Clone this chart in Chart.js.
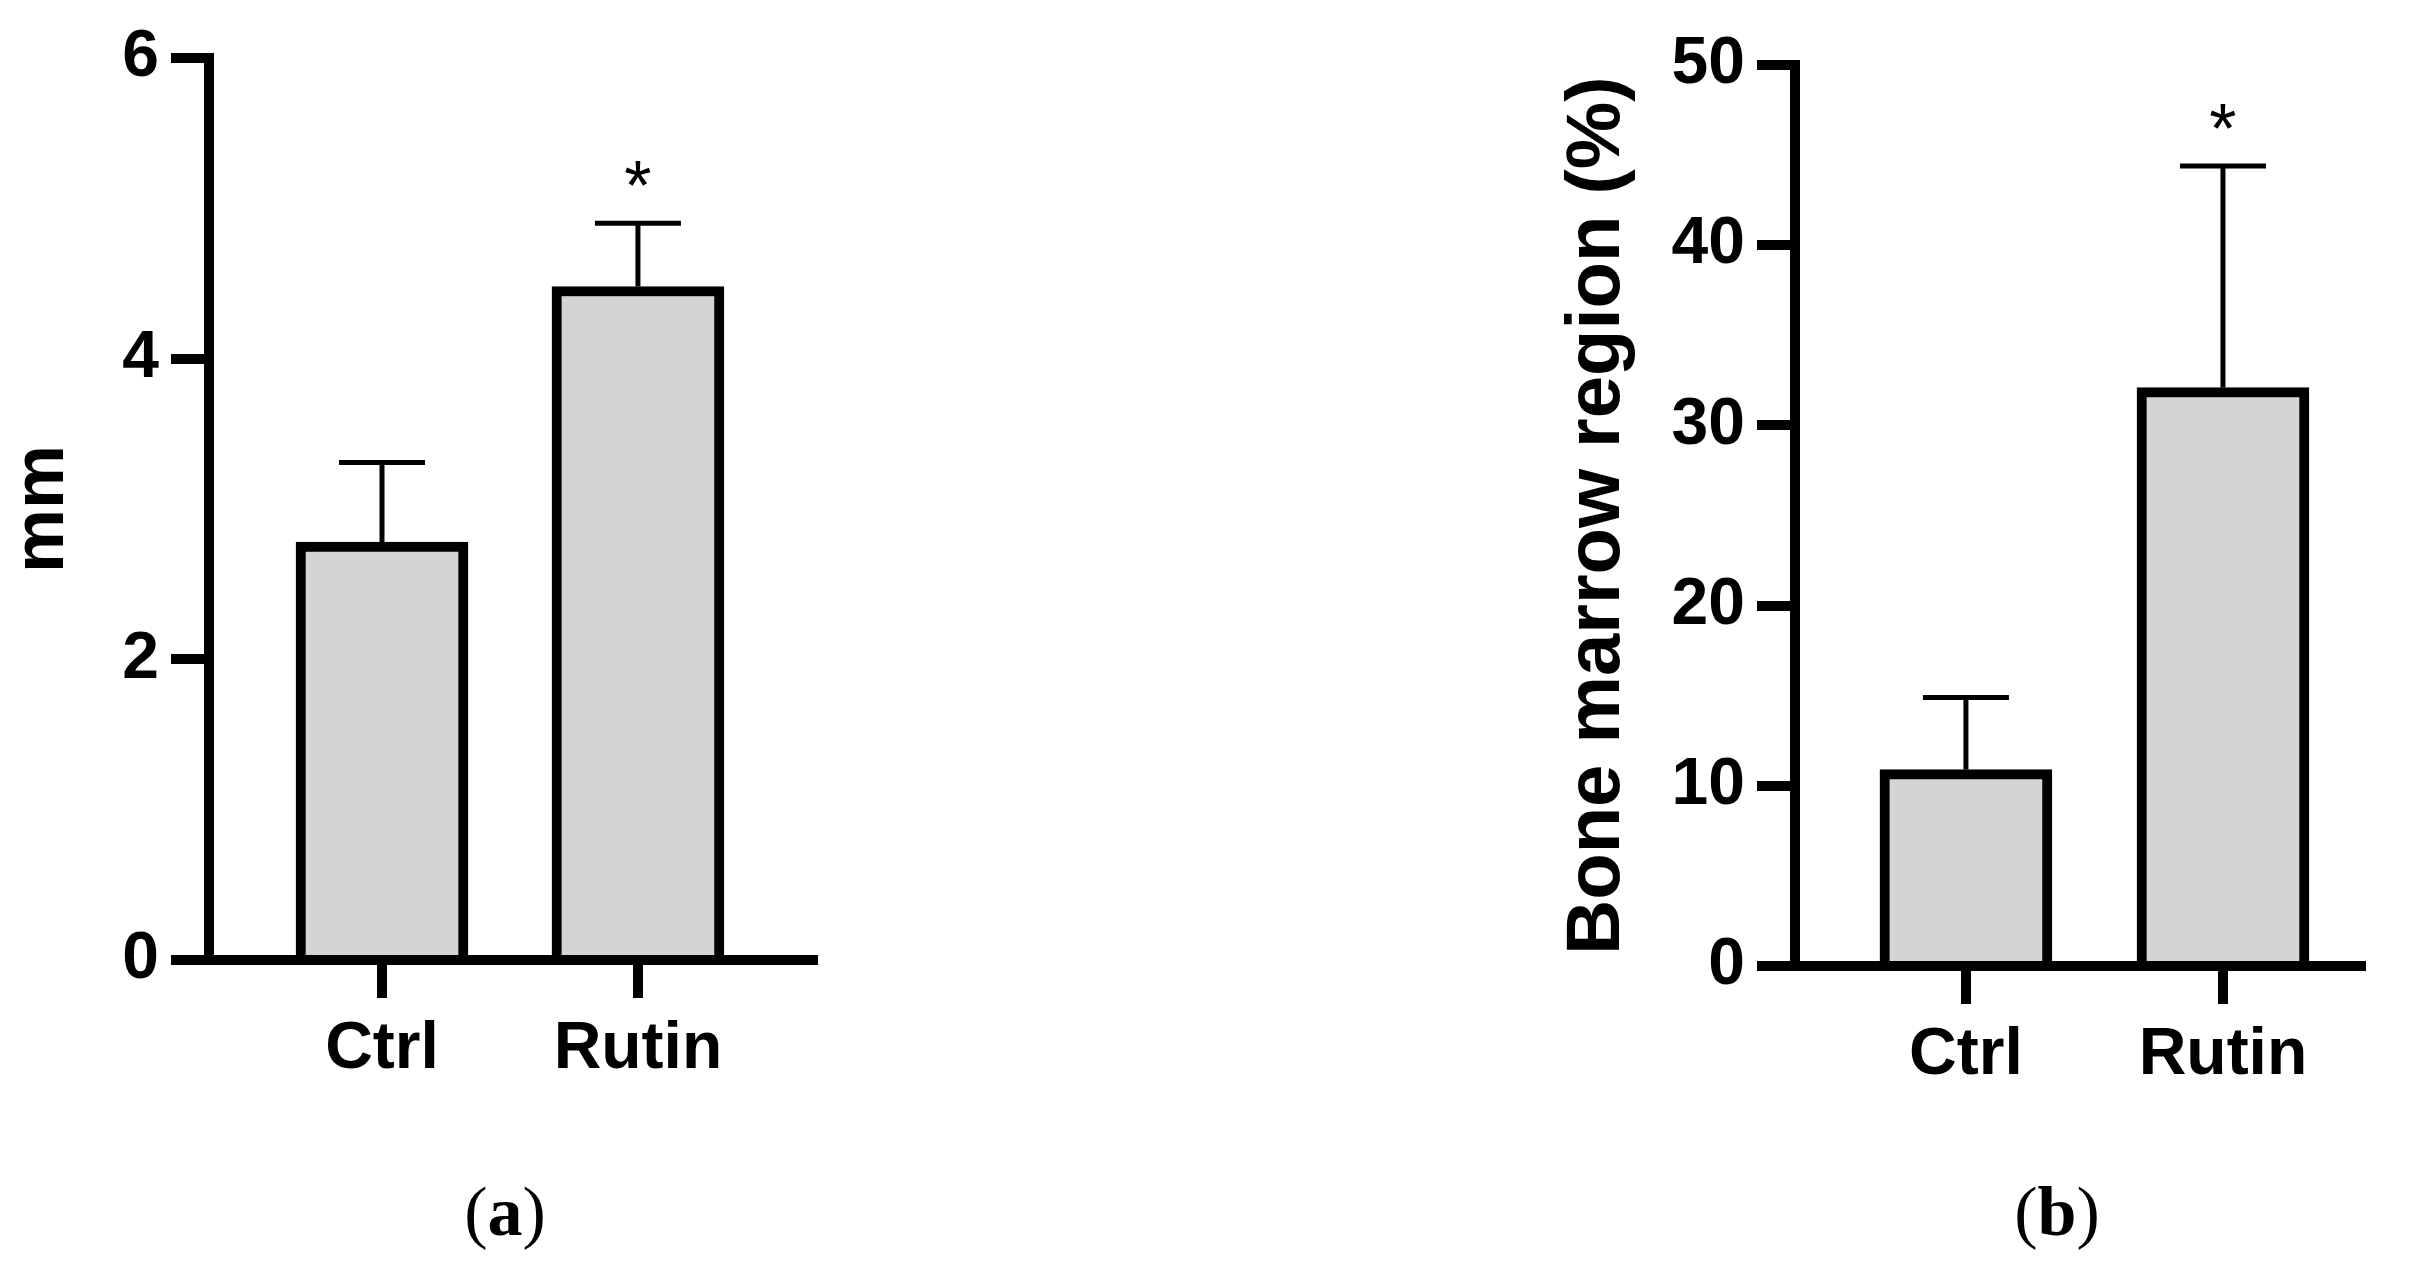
<!DOCTYPE html>
<html>
<head>
<meta charset="utf-8">
<script src="https://cdn.jsdelivr.net/npm/chart.js@4.4.0/dist/chart.umd.min.js"></script>
<style>
  html, body { margin: 0; padding: 0; background: #fff; }
  body { width: 2420px; height: 1265px; position: relative; overflow: hidden; }
  canvas { position: absolute; top: 0; }
  #chartA { left: 0; }
  #chartB { left: 1552px; }
  .caption {
    position: absolute; top: 1212px; transform: translate(-50%, -50%);
    font-family: "Liberation Serif", serif; font-size: 70px; line-height: 1; color: #000;
  }
  .caption b { font-weight: bold; }
</style>
</head>
<body>
<canvas id="chartA" width="880" height="1130"></canvas>
<canvas id="chartB" width="868" height="1130"></canvas>
<div class="caption" style="left:505px">(<b>a</b>)</div>
<div class="caption" style="left:2057px">(<b>b</b>)</div>

<script>
// groups on the x axis
const categories = ['Ctrl', 'Rutin'];

// panel (a): length in mm, mean and error (upper bar only)
const lengthMean = [2.78, 4.48];
const lengthErr = [0.53, 0.42];

// panel (b): bone marrow region in %
const marrowMean = [10.9, 32.1];
const marrowErr = [4.0, 12.3];

// significance marks above each group
const marks = ['', '*'];

const FONT = '"Liberation Sans", Arial, sans-serif';

// draws the upper error bar and the star over each bar
const errorBarPlugin = {
    id: 'errorBars',
    afterDatasetsDraw(chart, args, opts) {
        const ctx = chart.ctx;
        const xs = chart.scales.x;
        const ys = chart.scales.y;
        ctx.save();
        ctx.strokeStyle = '#000';
        ctx.lineWidth = 5;
        opts.means.forEach((m, i) => {
            const x = xs.getPixelForValue(i + 1);
            const y0 = ys.getPixelForValue(m);
            const y1 = ys.getPixelForValue(m + opts.errs[i]);
            ctx.beginPath();
            ctx.moveTo(x, y0);
            ctx.lineTo(x, y1);
            ctx.moveTo(x - 43, y1);
            ctx.lineTo(x + 43, y1);
            ctx.stroke();
            if (marks[i]) {
                ctx.fillStyle = '#000';
                ctx.font = '70px ' + FONT;
                ctx.textAlign = 'center';
                ctx.textBaseline = 'alphabetic';
                ctx.fillText(marks[i], x, y1 - 53 + 40);
            }
        });
        ctx.restore();
    }
};

function makeChart(id, means, errs, yMax, yStep, title, box) {
    const ctx = document.getElementById(id).getContext('2d');
    return new Chart(ctx, {
        type: 'bar',
        data: {
            datasets: [{
                data: means.map((v, i) => ({ x: i + 1, y: v })),
                backgroundColor: '#d4d4d4',
                borderColor: '#000',
                borderWidth: 10,
                barThickness: 172
            }]
        },
        options: {
            responsive: false,
            animation: false,
            layout: { padding: { top: box.top, right: box.right, left: 0, bottom: 0 } },
            plugins: {
                legend: { display: false },
                tooltip: { enabled: false },
                errorBars: { means: means, errs: errs }
            },
            scales: {
                x: {
                    type: 'linear',
                    offset: false,
                    min: box.xMin,
                    max: box.xMax,
                    afterBuildTicks: (scale) => {
                        scale.ticks = categories.map((c, i) => ({ value: i + 1 }));
                    },
                    afterFit: (scale) => { scale.height = box.xHeight; },
                    ticks: {
                        callback: (v) => categories[v - 1],
                        autoSkip: false,
                        maxRotation: 0,
                        padding: 12,
                        color: '#000',
                        font: { family: FONT, size: 66, weight: 'bold' }
                    },
                    grid: {
                        offset: false,
                        drawOnChartArea: false,
                        tickLength: 38,
                        lineWidth: 10,
                        color: '#000'
                    },
                    border: { color: '#000', width: 10 }
                },
                y: {
                    min: 0,
                    max: yMax,
                    afterFit: (scale) => { scale.width = box.yWidth; },
                    ticks: {
                        stepSize: yStep,
                        padding: 12,
                        color: '#000',
                        font: { family: FONT, size: 66, weight: 'bold' }
                    },
                    grid: {
                        drawOnChartArea: false,
                        tickLength: 38,
                        lineWidth: 10,
                        color: '#000'
                    },
                    border: { color: '#000', width: 10 },
                    title: {
                        display: true,
                        text: title,
                        color: '#000',
                        padding: 0,
                        font: { family: FONT, size: box.titleSize, weight: 'bold' }
                    }
                }
            }
        },
        plugins: [errorBarPlugin]
    });
}

makeChart('chartA', lengthMean, lengthErr, 6, 2, 'mm',
    { top: 58, right: 67, yWidth: 209, xHeight: 170, xMin: 0.324, xMax: 2.684, titleSize: 72 });
makeChart('chartB', marrowMean, marrowErr, 50, 10, 'Bone marrow region (%)',
    { top: 65, right: 59, yWidth: 243, xHeight: 164, xMin: 0.335, xMax: 2.537, titleSize: 76 });
</script>
</body>
</html>
